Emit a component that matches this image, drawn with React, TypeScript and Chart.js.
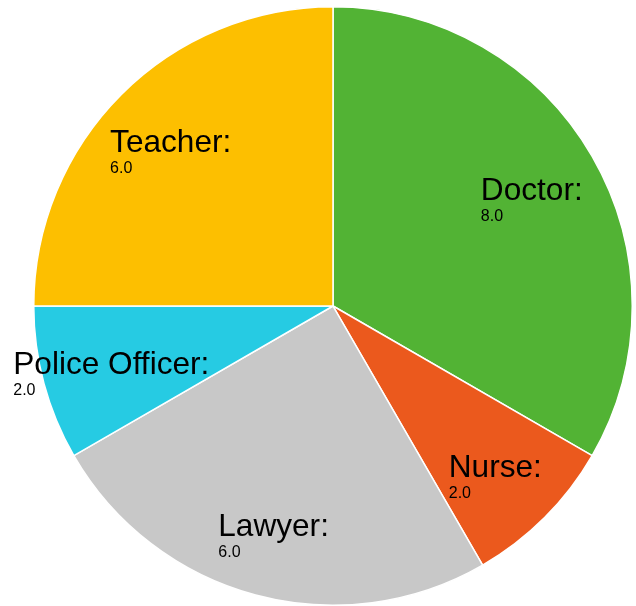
import React, { useEffect, useRef } from "react";
import { Chart, registerables } from "chart.js";

Chart.register(...registerables);

const categories = ["Doctor", "Nurse", "Lawyer", "Police Officer", "Teacher"];
const values = [8, 2, 6, 2, 6];
const colors = ["#52B334", "#EB591D", "#C8C8C8", "#26CBE3", "#FDBF00"];

const labelPlugin = {
  id: "sliceLabels",
  afterDatasetsDraw(chart: any) {
    const ctx = chart.ctx;
    const meta = chart.getDatasetMeta(0);
    const data = chart.data.datasets[0].data as number[];
    ctx.save();
    meta.data.forEach((arc: any, i: number) => {
      const p = arc.getProps(["x", "y", "startAngle", "endAngle", "outerRadius"], true);
      const mid = (p.startAngle + p.endAngle) / 2;
      const r = p.outerRadius * 0.767;
      const ax = p.x + Math.cos(mid) * r;
      const ay = p.y + Math.sin(mid) * r;
      const title = chart.data.labels[i] + ":";
      ctx.font = '31.6px "Liberation Sans", Arial, sans-serif';
      ctx.fillStyle = "#000";
      ctx.textBaseline = "alphabetic";
      ctx.textAlign = "left";
      const w = ctx.measureText(title).width;
      const left = ax - w / 2;
      ctx.fillText(title, left, ay + 8.5);
      ctx.font = '16px "Liberation Sans", Arial, sans-serif';
      ctx.fillText(Number(data[i]).toFixed(1), left, ay + 29.5);
    });
    ctx.restore();
  },
};

export default function App() {
  const ref = useRef<HTMLCanvasElement>(null);
  useEffect(() => {
    if (!ref.current) return;
    const chart = new Chart(ref.current, {
      type: "pie",
      data: {
        labels: categories,
        datasets: [
          {
            data: values,
            backgroundColor: colors,
            borderColor: "#ffffff",
            borderWidth: 1.5,
          },
        ],
      },
      options: {
        responsive: false,
        animation: false,
        layout: { padding: { left: 33, right: 3, top: 6, bottom: 0 } },
        plugins: {
          legend: { display: false },
          tooltip: { enabled: false },
        },
      },
      plugins: [labelPlugin],
    });
    return () => chart.destroy();
  }, []);
  return (
    <div style={{ position: "fixed", left: 0, top: 0, width: 636, height: 606, background: "#fff" }}>
      <canvas ref={ref} width={636} height={606} style={{ display: "block" }} />
    </div>
  );
}
